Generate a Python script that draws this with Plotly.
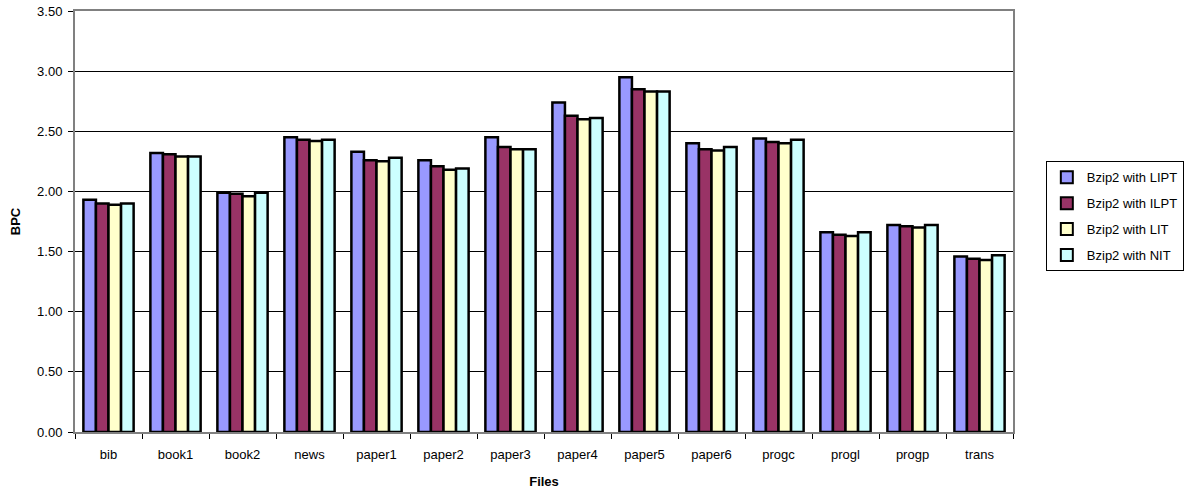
import plotly.graph_objects as go

files = ["bib", "book1", "book2", "news", "paper1", "paper2", "paper3",
         "paper4", "paper5", "paper6", "progc", "progl", "progp", "trans"]

lipt = [1.93, 2.32, 1.99, 2.45, 2.33, 2.26, 2.45, 2.74, 2.95, 2.40, 2.44, 1.66, 1.72, 1.46]
ilpt = [1.90, 2.31, 1.98, 2.43, 2.26, 2.21, 2.37, 2.63, 2.85, 2.35, 2.41, 1.64, 1.71, 1.44]
lit = [1.89, 2.29, 1.96, 2.42, 2.25, 2.18, 2.35, 2.60, 2.83, 2.34, 2.40, 1.63, 1.70, 1.43]
nit = [1.90, 2.29, 1.99, 2.43, 2.28, 2.19, 2.35, 2.61, 2.83, 2.37, 2.43, 1.66, 1.72, 1.47]

series = [
    ("Bzip2 with LIPT", lipt, "#9999FF"),
    ("Bzip2 with ILPT", ilpt, "#993366"),
    ("Bzip2 with LIT", lit, "#FFFFCC"),
    ("Bzip2 with NIT", nit, "#CCFFFF"),
]

FAMILY = "Liberation Sans, Arial, sans-serif"

fig = go.Figure()
for name, vals, color in series:
    fig.add_trace(go.Bar(
        x=files, y=vals, name=name, legendgroup=name,
        marker=dict(color=color, line=dict(color="black", width=2.5)),
    ))

fig.update_layout(
    width=1186, height=492,
    margin=dict(l=75, r=173, t=11, b=60, autoexpand=False),
    paper_bgcolor="white", plot_bgcolor="white",
    barmode="group", bargap=0.25, bargroupgap=0,
    font=dict(family=FAMILY, size=13, color="black"),
    showlegend=True,
    legend=dict(
        x=1.035, y=0.643, xanchor="left", yanchor="top",
        bordercolor="black", borderwidth=1, bgcolor="white",
        font=dict(family=FAMILY, size=13),
        tracegroupgap=6, itemsizing="constant",
    ),
    xaxis=dict(
        title=dict(text="<b>Files</b>", standoff=16, font=dict(family=FAMILY, size=13)),
        automargin=False,
        showline=True, linecolor="#808080", linewidth=2, mirror=True,
        ticks="outside", tickson="boundaries", ticklen=5, tickcolor="black",
        ticklabelstandoff=9,
        showgrid=False,
    ),
    yaxis=dict(
        title=dict(text="<b>BPC</b>", standoff=14, font=dict(family=FAMILY, size=13)),
        automargin=False,
        range=[0, 3.5], dtick=0.5, tickformat=".2f",
        showline=True, linecolor="#808080", linewidth=2, mirror=True,
        ticks="outside", ticklen=5, tickcolor="black",
        ticklabelstandoff=3,
        showgrid=True, gridcolor="black", gridwidth=1,
        zeroline=False,
    ),
)

fig.write_html("out.html")
